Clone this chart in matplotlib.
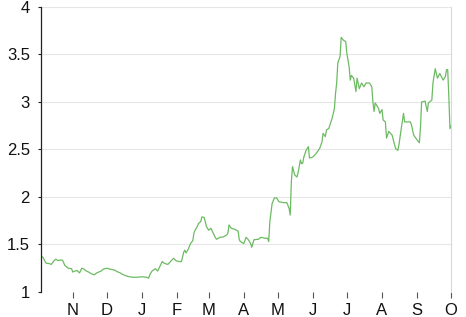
import numpy as np
import pandas as pd
import matplotlib
matplotlib.use("Agg")
import matplotlib.pyplot as plt
import matplotlib.dates as mdates

# days counted from 1 Nov 2016
day_offsets = [
    -28, -26, -24, -23, -21, -19, -17, -15, -13, -12, -9, -7, -5, -4, -1,
    0, 2, 4, 6, 8, 10, 12, 14, 16, 19, 21, 23, 25, 27, 30, 33, 35, 37, 39,
    42, 44, 47, 50, 53, 57, 61, 65, 67, 68, 70, 73, 75, 77, 79, 81, 84, 87,
    89, 91, 94, 96, 98, 99, 100, 102, 104, 106, 107, 108, 110, 111, 113, 114,
    116, 117, 118, 120, 122, 124, 126, 127, 130, 133, 136, 137, 138, 140, 143,
    146, 147, 148, 151, 153, 155, 157, 158, 160, 164, 166, 170, 172, 173, 174,
    176, 178, 180, 182, 186, 189, 191, 192, 193, 194, 196, 198, 199, 201, 202,
    203, 204, 206, 208, 209, 212, 215, 218, 220, 221, 223, 224, 226, 229, 231,
    232, 233, 234, 236, 237, 239, 241, 242, 244, 245, 246, 248, 250, 251, 253,
    255, 257, 259, 262, 264, 265, 266, 267, 270, 271, 273, 274, 276, 277, 279,
    282, 283, 285, 287, 288, 290, 292, 293, 298, 299, 301, 304, 306, 307, 308,
    311, 313, 314, 317, 318, 320, 322, 324, 327, 329, 330, 331, 332, 333, 334,
]
values = [
    1.38, 1.36, 1.31, 1.30, 1.30, 1.29, 1.32, 1.345, 1.33, 1.335, 1.335, 1.28,
    1.26, 1.25, 1.245,
    1.21, 1.22, 1.225, 1.20, 1.25, 1.24, 1.22, 1.21, 1.195, 1.18, 1.20, 1.21,
    1.22, 1.24, 1.25, 1.24, 1.235, 1.23, 1.215,
    1.20, 1.185, 1.17, 1.16, 1.155, 1.155, 1.16, 1.155, 1.145, 1.18, 1.22,
    1.245, 1.22, 1.27, 1.32, 1.30, 1.29, 1.33,
    1.355, 1.33, 1.32, 1.32, 1.42, 1.44, 1.41, 1.45, 1.51, 1.54, 1.62, 1.65,
    1.69, 1.72, 1.74, 1.79,
    1.785, 1.74, 1.69, 1.65, 1.67, 1.62, 1.57, 1.555, 1.575, 1.58, 1.60, 1.62,
    1.705, 1.67, 1.66,
    1.64, 1.55, 1.53, 1.51, 1.575, 1.55, 1.51, 1.47, 1.55, 1.555, 1.575, 1.565,
    1.565, 1.53, 1.74,
    1.93, 1.99, 1.99, 1.95, 1.94, 1.94, 1.88, 1.81, 2.16, 2.32, 2.23, 2.21,
    2.26, 2.39, 2.35,
    2.355, 2.42, 2.49, 2.53, 2.41, 2.42, 2.46, 2.51, 2.58, 2.67, 2.635, 2.705,
    2.72, 2.83, 2.93,
    3.09, 3.20, 3.41, 3.48, 3.68, 3.65, 3.635, 3.51, 3.37, 3.23, 3.28, 3.25,
    3.11, 3.25, 3.14,
    3.20, 3.16, 3.20, 3.20, 3.16, 3.00, 2.90, 2.99, 2.93, 2.88, 2.92, 2.81,
    2.79, 2.62, 2.69,
    2.65, 2.60, 2.51, 2.49, 2.55, 2.72, 2.88, 2.79, 2.79, 2.76, 2.65, 2.60,
    2.57, 2.74, 3.00,
    3.01, 2.90, 2.99, 3.02, 3.20, 3.35, 3.25, 3.30, 3.23, 3.27, 3.34, 3.34,
    3.06, 2.72, 2.75,
]
start_date = "2016-11-01"
y_ticks = [1, 1.5, 2, 2.5, 3, 3.5, 4]
y_labels = ["1", "1.5", "2", "2.5", "3", "3.5", "4"]
month_labels = ["N", "D", "J", "F", "M", "A", "M", "J", "J", "A", "S", "O"]

dates = pd.Timestamp(start_date) + pd.to_timedelta(day_offsets, unit="D")
month_ticks = pd.date_range(start_date, periods=len(month_labels), freq="MS")

plt.rcParams["font.family"] = ["Liberation Sans", "DejaVu Sans"]

fig = plt.figure(figsize=(4.66, 3.17), dpi=100)
ax = fig.add_axes([0.088, 0.079, 0.880, 0.899])

for yv in y_ticks[1:]:
    ax.axhline(yv, color="#e6e6e6", lw=0.8, zorder=0)

ax.plot(dates, values, color="#6cbb62", lw=0.9)

ax.set_xlim(dates[0], dates[-1])
ax.set_ylim(1, 4)
ax.set_yticks(y_ticks)
ax.set_yticklabels(y_labels)
ax.set_xticks(month_ticks)
ax.set_xticklabels(month_labels)

ax.spines["top"].set_visible(False)
ax.spines["bottom"].set_visible(False)
ax.spines["right"].set_color("#d9d9d9")
ax.spines["right"].set_linewidth(0.8)
ax.spines["left"].set_color("#222222")
ax.spines["left"].set_linewidth(0.9)

ax.tick_params(axis="y", length=2, width=0.8, pad=6, labelsize=12,
               color="#222222", labelcolor="#111111")
ax.tick_params(axis="x", length=4, width=0.8, pad=4, labelsize=12,
               color="#555555", labelcolor="#111111")

fig.savefig("out.png", dpi=100)
